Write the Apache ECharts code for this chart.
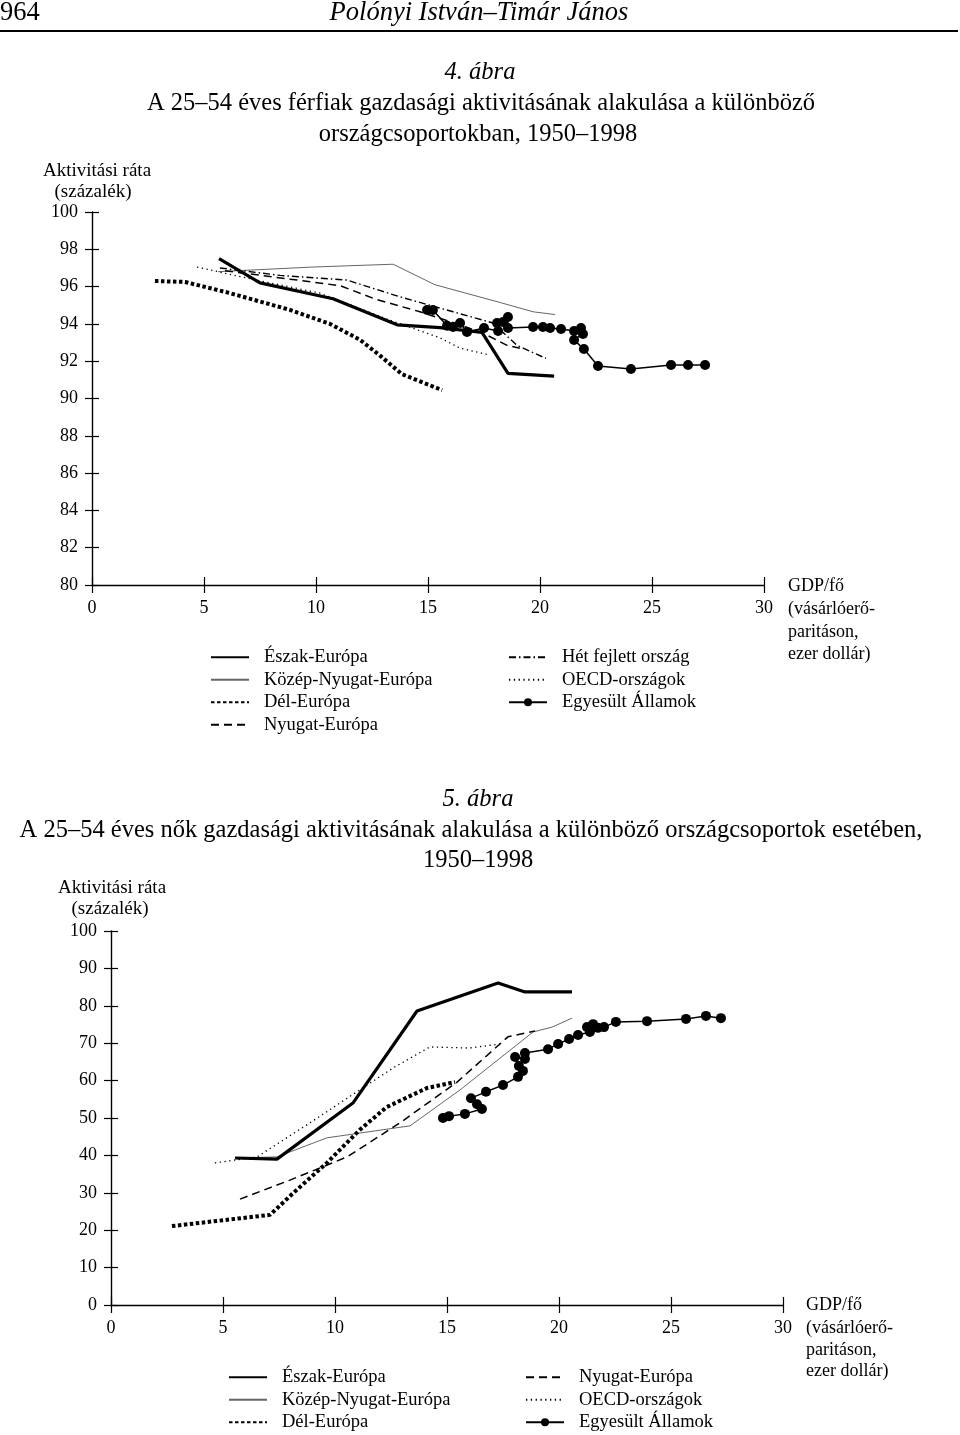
<!DOCTYPE html>
<html><head><meta charset="utf-8">
<script src="https://cdn.jsdelivr.net/npm/echarts@6/dist/echarts.min.js"></script>
<style>html,body{margin:0;padding:0;background:#fff}#c{width:960px;height:1435px}</style>
</head><body><div id="c"></div><script>
// ---------- DATA (x: GDP/fő ezer dollár, y: aktivitási ráta %) ----------
const xTicks = [0, 5, 10, 15, 20, 25, 30];
const topYTicks = [80, 82, 84, 86, 88, 90, 92, 94, 96, 98, 100];
const botYTicks = [0, 10, 20, 30, 40, 50, 60, 70, 80, 90, 100];

// 4. ábra – férfiak
const topNorth = [[5.67,97.5],[7.5,96.2],[10.76,95.35],[13.62,93.95],[15.54,93.8],[17.41,93.55],[18.57,91.35],[20.63,91.2]];
const topCentralWest = [[5.63,96.8],[9.87,97.05],[13.44,97.2],[15.31,96.1],[18.21,95.15],[19.69,94.65],[20.67,94.5]];
const topSouth = [[2.81,96.3],[4.15,96.25],[6.16,95.65],[8.84,94.75],[10.63,94.0],[11.96,93.15],[12.86,92.3],[13.84,91.3],[15.63,90.45]];
const topWest = [[5.94,96.85],[8.84,96.4],[11.07,96.05],[12.72,95.3],[14.64,94.65],[16.43,93.95],[17.46,93.5],[18.53,92.85],[19.1,92.7]];
const topG7 = [[5.71,97.0],[8.39,96.6],[11.38,96.35],[13.75,95.45],[16.12,94.65],[17.9,94.05],[18.97,92.85],[20.27,92.15]];
const topOECD = [[4.69,97.05],[6.74,96.5],[10.18,95.65],[13.3,94.2],[15.54,93.25],[16.43,92.7],[17.68,92.35]];
const topUS = [[14.96,94.75],[15.22,94.75],[15.85,93.9],[16.12,93.83],[16.43,94.05],[16.74,93.57],[17.5,93.78],[18.13,93.62],[18.08,94.05],[18.35,94.1],[18.57,94.37],[18.57,93.78],[19.69,93.83],[20.13,93.83],[20.45,93.78],[20.94,93.73],[21.52,93.62],[21.83,93.78],[21.92,93.46],[21.52,93.14],[21.96,92.65],[22.59,91.74],[24.06,91.58],[25.85,91.8],[26.61,91.8],[27.37,91.8]];

// 5. ábra – nők
const botNorth = [[5.54,39.3],[7.41,39.0],[10.8,54.0],[13.66,78.6],[17.28,86.1],[18.48,83.7],[20.58,83.7]];
const botCentralWest = [[5.54,39.3],[7.41,39.6],[9.64,44.7],[13.35,47.9],[15.58,57.5],[18.84,73.0],[19.69,74.3],[20.58,76.7]];
const botSouth = [[2.72,21.1],[7.1,24.1],[8.13,29.9],[9.64,38.0],[11.1,46.8],[12.3,52.9],[14.1,58.0],[15.36,59.6]];
const botWest = [[5.76,28.3],[7.99,33.4],[10.54,39.6],[12.9,48.7],[15.45,59.6],[17.72,71.7],[18.93,73.3]];
const botOECD = [[4.64,38.0],[6.52,39.6],[8.88,48.7],[11.1,57.5],[12.6,63.4],[14.24,69.0],[16.0,68.7],[17.4,69.8]];
const botUS = [[14.82,50.0],[15.09,50.5],[15.8,51.1],[16.56,52.4],[16.34,53.7],[16.07,55.3],[16.74,57.0],[17.5,58.8],[18.17,61.0],[18.39,62.6],[18.21,63.9],[18.04,66.3],[18.48,65.8],[18.48,67.4],[19.51,68.4],[19.96,69.8],[20.45,71.1],[20.85,72.2],[21.38,73.0],[21.25,74.3],[21.52,75.1],[21.74,74.1],[22.01,74.3],[22.54,75.7],[23.93,75.9],[25.67,76.5],[26.56,77.3],[27.23,76.7]];

// ---------- STYLE ----------
const F = '"Liberation Serif","DejaVu Serif",serif';
const US = 'Egyesült Államok';
const styles = {
  'Észak-Európa': {color:'#000', width:3.2, type:'solid'},
  'Közép-Nyugat-Európa': {color:'#666', width:1, type:'solid'},
  'Dél-Európa': {color:'#000', width:4, type:[3.5,2.5]},
  'Nyugat-Európa': {color:'#000', width:1.5, type:[8,5]},
  'Hét fejlett ország': {color:'#000', width:1.4, type:[7,3,1.5,3]},
  'OECD-országok': {color:'#000', width:1.3, type:[1.3,3.5]},
  'Egyesült Államok': {color:'#000', width:1.5, type:'solid'}
};
function ser(name, data, gi) {
  const s = styles[name];
  const us = name === US;
  return {
    type:'line', name, data, xAxisIndex: gi*2, yAxisIndex: gi*2,
    showSymbol: us, symbol: us ? 'circle' : 'none', symbolSize: 10,
    itemStyle:{color:'#000'},
    lineStyle:{color:s.color, width:s.width, type:s.type, cap:'butt'},
    z: us ? 5 : 3, animation:false, silent:true
  };
}
function axesX(gi) {
  const base = {type:'value', gridIndex:gi, position:'bottom', min:xTicks[0], max:xTicks[xTicks.length-1], interval:xTicks[1]-xTicks[0], splitLine:{show:false}};
  return [
    Object.assign({}, base, {axisLine:{show:true, lineStyle:{color:'#000', width:1.4}},
      axisTick:{show:true, length:8, lineStyle:{color:'#000', width:1.2}},
      axisLabel:{color:'#000', fontSize:18, fontFamily:F, margin:14}}),
    Object.assign({}, base, {axisLine:{show:false},
      axisTick:{show:true, inside:true, length:8, lineStyle:{color:'#000', width:1.2}},
      axisLabel:{show:false}})
  ];
}
function axesY(gi, ticks) {
  const base = {type:'value', gridIndex:gi, position:'left', min:ticks[0], max:ticks[ticks.length-1], interval:ticks[1]-ticks[0], splitLine:{show:false}};
  return [
    Object.assign({}, base, {axisLine:{show:true, lineStyle:{color:'#000', width:1.4}},
      axisTick:{show:true, length:7, lineStyle:{color:'#000', width:1.2}},
      axisLabel:{color:'#000', fontSize:18, fontFamily:F, margin:14}}),
    Object.assign({}, base, {axisLine:{show:false},
      axisTick:{show:true, inside:true, length:7, lineStyle:{color:'#000', width:1.2}},
      axisLabel:{show:false}})
  ];
}
function txt(text, x, y, opts) {
  opts = opts || {};
  return {type:'text', silent:true, style:{text, x, y, fill:'#000',
    font:(opts.italic?'italic ':'') + (opts.size||24.5) + 'px ' + F,
    textAlign: opts.align || 'center', textVerticalAlign:'middle'}};
}
const legText = {fontFamily:F, fontSize:18.5, color:'#000', lineHeight:22.5, padding:[0,0,0,10]};
function leg(names, left, top) {
  return {
    data: names.map(n => n === US ? {name:n} : {name:n, itemStyle:{color:'rgba(0,0,0,0)', borderWidth:0}}),
    orient:'vertical', left, top, height:100, padding:0, itemWidth:38, itemHeight:10, itemGap:0,
    selectedMode:false, textStyle:legText
  };
}

const chart = echarts.init(document.getElementById('c'), null, {renderer:'canvas'});
chart.setOption({
  animation:false,
  backgroundColor:'#fff',
  grid:[
    {left:92, top:212, width:672, height:373},
    {left:111, top:931, width:672, height:374}
  ],
  xAxis:[...axesX(0), ...axesX(1)],
  yAxis:[...axesY(0, topYTicks), ...axesY(1, botYTicks)],
  legend:[
    leg(['Észak-Európa','Közép-Nyugat-Európa','Dél-Európa','Nyugat-Európa'], 210, 646),
    leg(['Hét fejlett ország','OECD-országok',US], 508, 646),
    leg(['Észak-Európa','Közép-Nyugat-Európa','Dél-Európa'], 228, 1366),
    leg(['Nyugat-Európa','OECD-országok',US], 525, 1366)
  ],
  series:[
    ser('Közép-Nyugat-Európa', topCentralWest, 0),
    ser('OECD-országok', topOECD, 0),
    ser('Hét fejlett ország', topG7, 0),
    ser('Nyugat-Európa', topWest, 0),
    ser('Dél-Európa', topSouth, 0),
    ser('Észak-Európa', topNorth, 0),
    ser(US, topUS, 0),
    ser('Közép-Nyugat-Európa', botCentralWest, 1),
    ser('OECD-országok', botOECD, 1),
    ser('Nyugat-Európa', botWest, 1),
    ser('Dél-Európa', botSouth, 1),
    ser('Észak-Európa', botNorth, 1),
    ser(US, botUS, 1)
  ],
  graphic:[
    txt('964', 0, 13, {align:'left', size:26.5}),
    txt('Polónyi István–Timár János', 479, 13, {italic:true, size:26.5}),
    {type:'line', silent:true, shape:{x1:0, y1:31, x2:958, y2:31}, style:{stroke:'#000', lineWidth:2}},
    txt('4. ábra', 480, 73, {italic:true}),
    txt('A 25–54 éves férfiak gazdasági aktivitásának alakulása a különböző', 481, 104),
    txt('országcsoportokban, 1950–1998', 478, 135),
    txt('Aktivitási ráta', 97, 171, {size:19}),
    txt('(százalék)', 93, 192, {size:19}),
    txt('GDP/fő', 788, 586, {align:'left', size:18}),
    txt('(vásárlóerő-', 788, 609, {align:'left', size:18}),
    txt('paritáson,', 788, 632, {align:'left', size:18}),
    txt('ezer dollár)', 788, 654, {align:'left', size:18}),
    txt('5. ábra', 478, 800, {italic:true}),
    txt('A 25–54 éves nők gazdasági aktivitásának alakulása a különböző országcsoportok esetében,', 471, 831),
    txt('1950–1998', 478, 861),
    txt('Aktivitási ráta', 112, 888, {size:19}),
    txt('(százalék)', 110, 909, {size:19}),
    txt('GDP/fő', 806, 1305, {align:'left', size:18}),
    txt('(vásárlóerő-', 806, 1328, {align:'left', size:18}),
    txt('paritáson,', 806, 1350, {align:'left', size:18}),
    txt('ezer dollár)', 806, 1371, {align:'left', size:18})
  ]
});
</script></body></html>
